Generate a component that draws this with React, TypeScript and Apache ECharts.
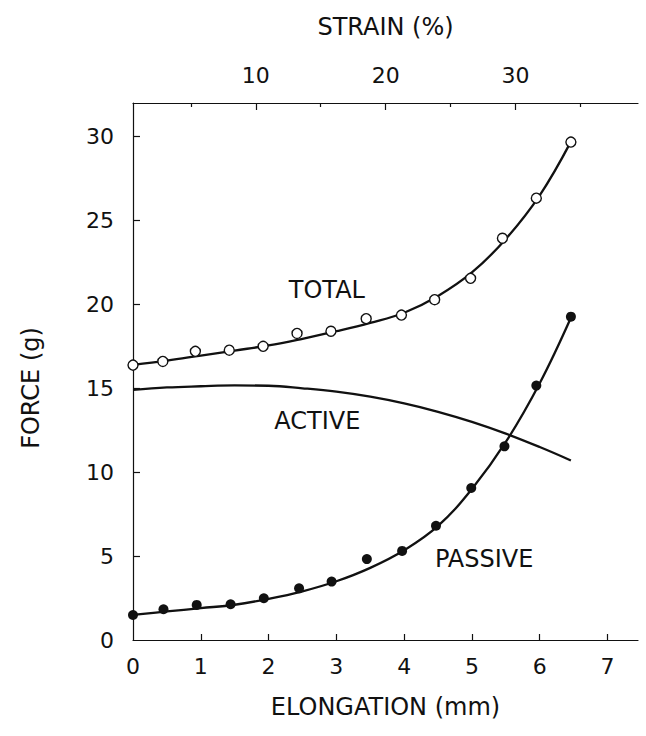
import React, { useEffect, useRef } from "react";
import * as echarts from "echarts";

// Elongation (mm) sample positions for the fitted curves
const curveX = [0, 0.5, 1, 1.5, 2, 2.5, 3, 3.5, 4, 4.5, 5, 5.5, 6, 6.46];
const totalCurve = [16.4, 16.65, 16.95, 17.25, 17.55, 17.95, 18.4, 18.9, 19.5, 20.5, 21.9, 23.9, 26.5, 29.7];
const activeCurve = [14.9, 15.05, 15.12, 15.17, 15.15, 15.0, 14.8, 14.5, 14.1, 13.6, 13.0, 12.3, 11.5, 10.7];
const passiveCurve = [1.5, 1.7, 1.9, 2.1, 2.45, 2.9, 3.5, 4.3, 5.35, 6.8, 9.0, 11.8, 15.3, 19.2];

// Measured points
const totalX = [0, 0.44, 0.92, 1.42, 1.92, 2.42, 2.92, 3.44, 3.96, 4.45, 4.98, 5.45, 5.95, 6.46];
const totalY = [16.38, 16.6, 17.2, 17.27, 17.5, 18.27, 18.4, 19.15, 19.36, 20.28, 21.55, 23.94, 26.33, 29.67];
const passiveX = [0, 0.45, 0.94, 1.44, 1.93, 2.45, 2.93, 3.45, 3.97, 4.47, 4.99, 5.48, 5.95, 6.46];
const passiveY = [1.49, 1.83, 2.09, 2.13, 2.49, 3.08, 3.48, 4.82, 5.31, 6.81, 9.06, 11.54, 15.16, 19.27];

// Axes
const elongTicks = [0, 1, 2, 3, 4, 5, 6, 7];
const forceTicks = [0, 5, 10, 15, 20, 25, 30];
const strainMajor = [10, 20, 30];
const strainMinor = [5, 15, 25, 35];
const elongMax = 7.45;
const forceMax = 32;
const strainMin = 0.54;
const strainMax = 39.44;

// Curve labels [x, y, text]
const curveLabels: [number, number, string][] = [
  [2.86, 20.84, "TOTAL"],
  [2.72, 13.04, "ACTIVE"],
  [5.18, 4.85, "PASSIVE"],
];

const FONT = "DejaVu Sans";
const INK = "#111";

export default function App() {
  const ref = useRef<HTMLDivElement>(null);
  useEffect(() => {
    if (!ref.current) return;
    const chart = echarts.init(ref.current, undefined, { renderer: "svg" });
    const zip = (xs: number[], ys: number[]) => xs.map((x, i) => [x, ys[i]]);
    const lineSeries = (ys: number[]) => ({
      type: "line",
      data: zip(curveX, ys),
      smooth: 0.4,
      showSymbol: false,
      symbol: "none",
      lineStyle: { color: INK, width: 2.3 },
      z: 2,
      xAxisIndex: 0,
      yAxisIndex: 0,
    });
    chart.setOption({
      animation: false,
      backgroundColor: "#fff",
      grid: { left: 133, right: 8, top: 103, bottom: 96, containLabel: false },
      xAxis: [
        {
          type: "value",
          position: "bottom",
          min: 0,
          max: elongMax,
          axisLine: { show: true, lineStyle: { color: INK, width: 1.2 } },
          axisTick: { show: true, inside: true, length: 6, customValues: elongTicks.slice(1), lineStyle: { color: INK, width: 1.2 } },
          axisLabel: { customValues: elongTicks, fontSize: 22, margin: 15, color: INK, fontFamily: FONT },
          splitLine: { show: false },
          name: "ELONGATION (mm)",
          nameLocation: "middle",
          nameGap: 55,
          nameTextStyle: { fontSize: 24, color: INK, fontFamily: FONT },
        },
        {
          type: "value",
          position: "top",
          min: strainMin,
          max: strainMax,
          axisLine: { show: true, onZero: false, lineStyle: { color: INK, width: 1.2 } },
          axisTick: { show: true, inside: true, length: 7, customValues: strainMajor, lineStyle: { color: INK, width: 1.2 } },
          axisLabel: { customValues: strainMajor, fontSize: 22, margin: 17, color: INK, fontFamily: FONT },
          splitLine: { show: false },
          name: "STRAIN (%)",
          nameLocation: "middle",
          nameGap: 64,
          nameTextStyle: { fontSize: 24, color: INK, fontFamily: FONT },
        },
        {
          type: "value",
          position: "top",
          min: strainMin,
          max: strainMax,
          axisLine: { show: false },
          axisTick: { show: true, inside: true, length: 4, customValues: strainMinor, lineStyle: { color: INK, width: 1.2 } },
          axisLabel: { show: false },
          splitLine: { show: false },
        },
      ],
      yAxis: [
        {
          type: "value",
          min: 0,
          max: forceMax,
          axisLine: { show: true, lineStyle: { color: INK, width: 1.2 } },
          axisTick: { show: true, inside: true, length: 7, customValues: forceTicks.slice(1), lineStyle: { color: INK, width: 1.2 } },
          axisLabel: { customValues: forceTicks, fontSize: 22, margin: 19, color: INK, fontFamily: FONT },
          splitLine: { show: false },
        },
      ],
      graphic: [
        {
          type: "text",
          x: 31,
          y: 388,
          rotation: Math.PI / 2,
          style: {
            text: "FORCE (g)",
            fontSize: 24,
            fill: INK,
            fontFamily: FONT,
            align: "center",
            verticalAlign: "middle",
          },
        },
      ],
      series: [
        lineSeries(totalCurve),
        lineSeries(activeCurve),
        lineSeries(passiveCurve),
        {
          type: "scatter",
          data: zip(totalX, totalY),
          symbol: "circle",
          symbolSize: 10,
          itemStyle: { color: "#fff", borderColor: INK, borderWidth: 1.4, opacity: 1 },
          z: 4,
        },
        {
          type: "scatter",
          data: zip(passiveX, passiveY),
          symbol: "circle",
          symbolSize: 10,
          itemStyle: { color: INK, opacity: 1 },
          z: 4,
        },
        {
          type: "scatter",
          data: curveLabels.map((d) => ({ value: [d[0], d[1]], name: d[2] })),
          symbolSize: 0,
          silent: true,
          itemStyle: { opacity: 1 },
          label: {
            show: true,
            position: "inside",
            formatter: (p: any) => p.name,
            fontSize: 24,
            color: INK,
            fontFamily: FONT,
          },
          z: 5,
        },
      ],
    });
    return () => chart.dispose();
  }, []);
  return (
    <div
      ref={ref}
      style={{ position: "fixed", left: 0, top: 0, width: 646, height: 736, background: "#fff" }}
    />
  );
}
